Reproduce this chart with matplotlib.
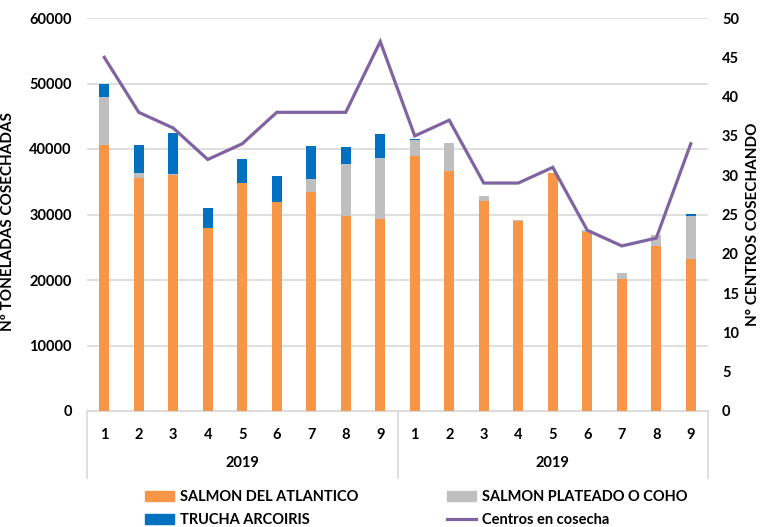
import matplotlib
matplotlib.use("Agg")
import matplotlib.pyplot as plt
import matplotlib.transforms as mtransforms
from matplotlib.patches import Patch
from matplotlib.lines import Line2D
import numpy as np

months = ["1", "2", "3", "4", "5", "6", "7", "8", "9",
          "1", "2", "3", "4", "5", "6", "7", "8", "9"]
years = ["2019", "2019"]
atlantico = [40600, 35600, 36100, 27900, 34800, 31900, 33500, 29800, 29300,
             38900, 36600, 32000, 29000, 36300, 27300, 20100, 25200, 23200]
coho = [7300, 700, 100, 0, 0, 0, 1900, 7900, 9400,
        2500, 4300, 900, 150, 100, 400, 1000, 1700, 6600]
trucha = [2100, 4300, 6300, 3100, 3600, 4000, 5000, 2600, 3600,
          200, 0, 0, 0, 0, 0, 0, 0, 250]
centros = [45, 38, 36, 32, 34, 38, 38, 38, 47,
           35, 37, 29, 29, 31, 23, 21, 22, 34]

FONT = "Lato"
c_orange = "#F79646"
c_gray = "#BFBFBF"
c_blue = "#0070C0"
c_line = "#8064A2"
W, H = 761, 527

fig = plt.figure(figsize=(W / 100, H / 100), dpi=100)
ax = fig.add_axes([87/W, 116/H, 621/W, 393/H])
x = np.arange(len(months))
a = np.array(atlantico); c = np.array(coho); t = np.array(trucha)
w = 0.3
ax.bar(x, a, w, color=c_orange, zorder=2)
ax.bar(x, c, w, bottom=a, color=c_gray, zorder=2)
ax.bar(x, t, w, bottom=a + c, color=c_blue, zorder=2)

ax.set_xlim(-0.5, len(months) - 0.5)
ax.set_ylim(0, 60000)
ax.set_yticks(range(0, 60001, 10000))
ax.grid(axis="y", color="#D9D9D9", linewidth=1.2, zorder=0)
ax.set_axisbelow(True)
for s in ["top", "right", "left"]:
    ax.spines[s].set_visible(False)
ax.spines["bottom"].set_color("#D9D9D9")
ax.tick_params(axis="y", length=0, pad=11)
ax.tick_params(axis="x", length=0, pad=12)
ax.set_xticks(x)
ax.set_xticklabels(months)
for lab in ax.get_xticklabels() + ax.get_yticklabels():
    lab.set_fontfamily(FONT); lab.set_fontweight("bold"); lab.set_fontsize(10.5)

ax2 = ax.twinx()
ax2.set_ylim(0, 50)
ax2.set_yticks(range(0, 51, 5))
ax2.plot(x, centros, color=c_line, linewidth=2.3, zorder=3, solid_joinstyle="miter")
for s in ["top", "right", "left", "bottom"]:
    ax2.spines[s].set_visible(False)
ax2.tick_params(axis="y", length=0, pad=10)
for lab in ax2.get_yticklabels():
    lab.set_fontfamily(FONT); lab.set_fontweight("bold"); lab.set_fontsize(10.5)

# group separators and year labels
trans = mtransforms.blended_transform_factory(ax.transData, ax.transAxes)
for xs in [-0.5, 8.5, 17.5]:
    ax.plot([xs, xs], [0, -0.17], transform=trans, color="#D9D9D9",
            linewidth=1.2, clip_on=False)
for i, yr in enumerate(years):
    ax.text(i * 9 + 4, -0.132, yr, transform=trans, ha="center", va="center",
            fontfamily=FONT, fontweight="bold", fontsize=10.5)

fig.text(8/W, 1 - 222/H, "Nº TONELADAS COSECHADAS", rotation=90,
         ha="center", va="center", fontfamily=FONT, fontweight="bold", fontsize=11)
fig.text(753/W, 1 - 224/H, "N° CENTROS COSECHANDO", rotation=90,
         ha="center", va="center", fontfamily=FONT, fontweight="bold", fontsize=11)

prop = {"family": FONT, "weight": "bold", "size": 10.5}
kw = dict(loc="upper left", frameon=False, prop=prop, borderpad=0,
          handlelength=2.0, handleheight=0.65, handletextpad=0.35,
          labelspacing=0.6)
leg1 = fig.legend([Patch(color=c_orange), Patch(color=c_blue)],
                  ["SALMON DEL ATLANTICO", "TRUCHA ARCOIRIS"],
                  bbox_to_anchor=(138/W, 1 - 483/H), **kw)
leg2 = fig.legend([Patch(color=c_gray), Line2D([0], [0], color=c_line, lw=2.3)],
                  ["SALMON PLATEADO O COHO", "Centros en cosecha"],
                  bbox_to_anchor=(440/W, 1 - 483/H), **kw)

fig.savefig("out.png", dpi=100)
